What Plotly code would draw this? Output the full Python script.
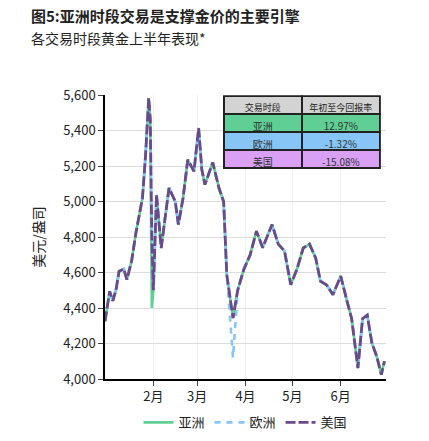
import plotly.graph_objects as go
import datetime as dt

days = [1,4,6,8,10,13,15,18,21,25,27,29,30,31,32,34,37,42,46,48,51,54,58,61,63,65,70,74,77,79,83,86,90,94,98,102,108,112,116,120,124,128,132,136,139,143,147,152,156,159,163,166,169,172,175,178,180]
price = [4325,4494,4440,4500,4607,4620,4560,4663,4833,5020,5264,5583,5460,4794,4500,5038,4738,5076,5000,4870,5020,5235,5170,5414,5180,5095,5220,5076,5000,4588,4343,4500,4620,4700,4833,4740,4870,4760,4720,4531,4620,4738,4760,4680,4551,4530,4475,4580,4440,4340,4062,4340,4360,4200,4130,4025,4100]
asia_override = {31: 4400}
europe_override = {83: 4120}
series_names = ["亚洲", "欧洲", "美国"]
series_colors = ["#5fcf95", "#86c5f5", "#6a4a8c"]
tick_dates = ["2026-02-01","2026-03-01","2026-04-01","2026-05-01","2026-06-01"]
tick_text = ["2月","3月","4月","5月","6月"]
table_header = ["交易时段", "年初至今回报率"]
table_session = ["亚洲", "欧洲", "美国"]
table_return = ["12.97%", "-1.32%", "-15.08%"]
table_fill = ["#5fcf95", "#86c5f5", "#d9a0f5"]

base = dt.date(2026, 1, 1)
x = [base + dt.timedelta(days=d - 1) for d in days]

def series(over):
    return [over.get(d, p) for d, p in zip(days, price)]

fig = go.Figure()
vals = [series(asia_override), series(europe_override), price]
dashes = ["solid", "6px,6px", "10px,3px"]
widths = [2.6, 2.6, 2.8]
for n, c, v, ds, w in zip(series_names, series_colors, vals, dashes, widths):
    fig.add_trace(go.Scatter(x=x, y=v, mode="lines", name=n,
                             line=dict(color=c, width=w, dash=ds)))

fig.add_trace(go.Table(
    domain=dict(x=[0.423, 0.979], y=[0.72, 0.996]),
    columnwidth=[1, 1],
    header=dict(values=table_header, fill_color="#d3d3d3",
                line=dict(color="#222", width=1.5),
                font=dict(size=9, color="#222", family="Noto Sans CJK SC"), height=18),
    cells=dict(values=[table_session, table_return],
               fill_color=[table_fill, table_fill],
               line=dict(color="#222", width=1.5),
               font=dict(size=10, color="#333", family="Noto Sans CJK SC"), height=18)))

fig.update_layout(
    width=429, height=441, plot_bgcolor="white", paper_bgcolor="white",
    margin=dict(l=97, r=51, t=87, b=70),
    font=dict(family="Noto Sans CJK SC", color="#222", size=13),
    annotations=[
        dict(text="<b>图5:亚洲时段交易是支撑金价的主要引擎</b>", xref="paper", yref="paper",
             x=-0.27, y=1.28, xanchor="left", yanchor="middle", showarrow=False, font=dict(size=15)),
        dict(text="各交易时段黄金上半年表现*", xref="paper", yref="paper",
             x=-0.27, y=1.2, xanchor="left", yanchor="middle", showarrow=False, font=dict(size=14)),
    ],
    legend=dict(orientation="h", x=0.5, xanchor="center", y=-0.1, yanchor="top",
                font=dict(size=13)),
    xaxis=dict(range=[base, dt.date(2026, 6, 30)], tickvals=tick_dates, ticktext=tick_text,
               showline=True, linecolor="black", linewidth=1.5, ticks="outside",
               showgrid=True, gridcolor="#f2f2f2", tickfont=dict(size=13)),
    yaxis=dict(range=[4000, 5600], dtick=200, tickformat=",", showline=True,
               linecolor="black", linewidth=1.5, ticks="outside", gridcolor="#dddddd",
               title=dict(text="美元/盎司", font=dict(size=14)), tickfont=dict(size=13)),
)
fig.write_html("out.html")
